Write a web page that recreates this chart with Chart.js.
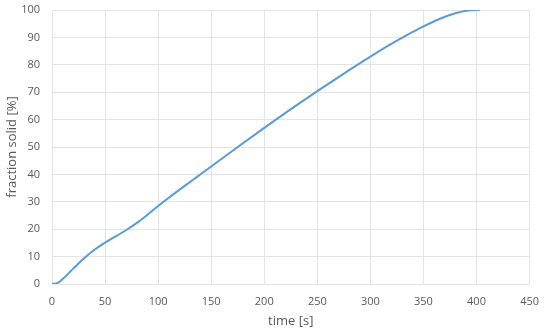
<!DOCTYPE html>
<html>
<head>
<meta charset="utf-8">
<script src="https://cdn.jsdelivr.net/npm/chart.js@4/dist/chart.umd.min.js"></script>
<style>
  html, body { margin: 0; padding: 0; background: #fff; }
  #wrap { width: 550px; height: 332px; }
</style>
</head>
<body>
<div id="wrap"><canvas id="solidChart"></canvas></div>
<script>
// values
const timeValues = [0, 5, 10, 20, 30, 40, 50, 60, 70, 80, 90, 100, 110, 125, 150, 175, 200, 225, 250, 275, 300, 325, 350, 365, 380, 392, 403];
const fractionValues = [0, 0.3, 1.8, 5.6, 9.3, 12.5, 15.1, 17.4, 19.7, 22.3, 25.3, 28.5, 31.5, 35.8, 42.9, 50, 57, 63.8, 70.4, 76.8, 83, 88.8, 94, 96.7, 98.8, 99.8, 100];
const xTicks = [0, 50, 100, 150, 200, 250, 300, 350, 400, 450];
const yTicks = [0, 10, 20, 30, 40, 50, 60, 70, 80, 90, 100];

const gridColor = "#e4e4e4";
const textColor = "#595959";
const fontFamily = "'Open Sans', sans-serif";

const points = timeValues.map((t, i) => ({ x: t, y: fractionValues[i] }));

new Chart(document.getElementById("solidChart"), {
  type: "line",
  data: {
    datasets: [{
      data: points,
      borderColor: "#5b9bd5",
      borderWidth: 2,
      pointRadius: 0,
      fill: false,
      cubicInterpolationMode: "monotone"
    }]
  },
  options: {
    responsive: true,
    maintainAspectRatio: false,
    animation: false,
    layout: { padding: { top: 0, right: 15, bottom: 0, left: 0 } },
    plugins: {
      legend: { display: false },
      tooltip: { enabled: false }
    },
    scales: {
      x: {
        type: "linear",
        min: 0,
        max: 450,
        afterBuildTicks: axis => { axis.ticks = xTicks.map(v => ({ value: v })); },
        afterFit: axis => { axis.height = 48; },
        grid: { color: gridColor, drawTicks: false },
        border: { color: gridColor },
        ticks: { color: textColor, padding: 11, font: { family: fontFamily, size: 11 } },
        title: {
          display: true,
          text: "time [s]",
          color: textColor,
          font: { family: fontFamily, size: 13 },
          padding: { top: 0, bottom: 3 }
        }
      },
      y: {
        min: 0,
        max: 100,
        afterBuildTicks: axis => { axis.ticks = yTicks.map(v => ({ value: v })); },
        afterFit: axis => {
          axis.width = 52;
          axis.paddingTop = 10;
          axis.paddingBottom = 0;
        },
        grid: { color: gridColor, drawTicks: false },
        border: { color: gridColor },
        ticks: { color: textColor, padding: 12, font: { family: fontFamily, size: 11 } },
        title: {
          display: true,
          text: "fraction solid [%]",
          color: textColor,
          font: { family: fontFamily, size: 13 },
          padding: { top: 4, bottom: 0 }
        }
      }
    }
  }
});
</script>
</body>
</html>
